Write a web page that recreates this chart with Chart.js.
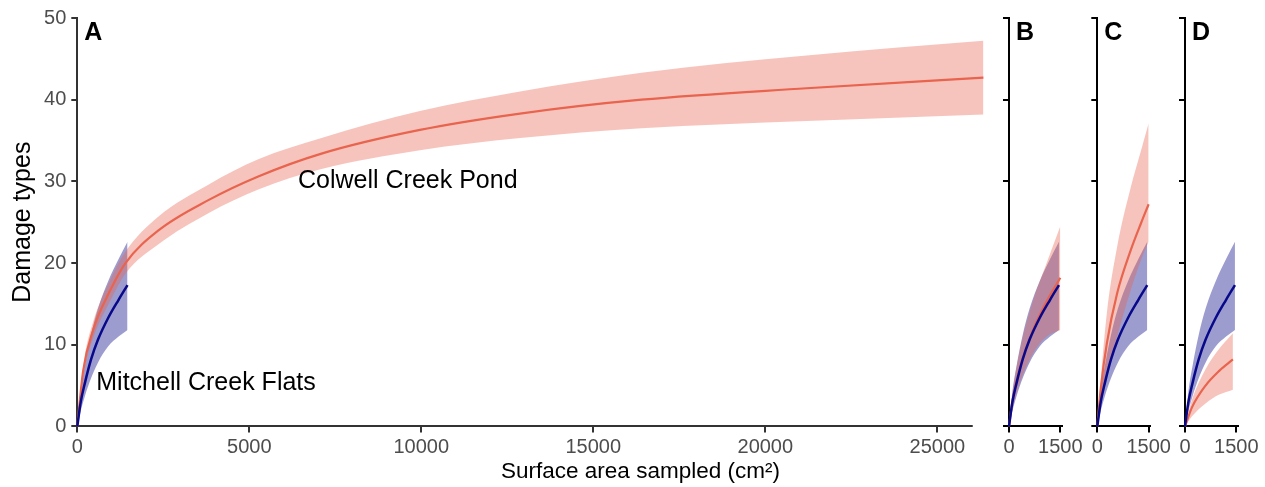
<!DOCTYPE html>
<html>
<head>
<meta charset="utf-8">
<script src="https://cdn.jsdelivr.net/npm/chart.js@4.4.1/dist/chart.umd.min.js"></script>
<style>
html,body{margin:0;padding:0;background:#fff;overflow:hidden;}
#wrap{position:relative;width:1265px;height:487px;background:#fff;}
#wrap canvas{position:absolute;left:0;top:0;}
#xtitle{position:absolute;left:340px;width:601px;top:457px;text-align:center;font-family:"Liberation Sans",Arial,Helvetica,sans-serif;font-size:22.5px;line-height:27px;color:#000;white-space:nowrap;}
</style>
</head>
<body>
<div id="wrap">
  <canvas id="cA" width="1265" height="487"></canvas>
  <canvas id="cB" width="1265" height="487"></canvas>
  <canvas id="cC" width="1265" height="487"></canvas>
  <canvas id="cD" width="1265" height="487"></canvas>
  <div id="xtitle">Surface area sampled (cm²)</div>
</div>
<script>
// ---------- tick labels ----------
const yTicks = [0, 10, 20, 30, 40, 50];
const xTicksA = [0, 5000, 10000, 15000, 20000, 25000];
const xTicksSmall = [0, 1500];

// ---------- Mitchell Creek Flats (blue, all panels) ----------
const mitchellX     = [0, 100, 220, 400, 600, 900, 1200, 1460];
const mitchellMean  = [0, 3.0, 5.3, 8.2, 10.6, 13.3, 15.5, 17.3];
const mitchellUpper = [0, 4.3, 7.4, 11.2, 14.4, 17.8, 20.5, 22.6];
const mitchellLower = [0, 1.9, 3.7, 5.9, 7.8, 9.8, 11.0, 11.8];

// ---------- Panel A: Colwell Creek Pond ----------
const colwellX     = [0, 170, 460, 950, 1400, 2360, 3810, 5260, 7100, 9960, 12870, 16400, 21200, 26340];
const colwellMean  = [0, 6.8, 11.8, 16.6, 20.0, 24.0, 27.7, 30.6, 33.4, 36.3, 38.3, 40.0, 41.4, 42.7];
const colwellUpper = [0, 7.4, 12.8, 17.9, 21.4, 25.7, 29.6, 32.7, 35.3, 38.6, 41.0, 43.3, 45.4, 47.2];
const colwellLower = [0, 6.2, 10.8, 15.3, 18.7, 22.3, 26.1, 29.0, 31.5, 33.8, 35.3, 36.5, 37.4, 38.2];

// ---------- Panel B ----------
const bX     = [0, 100, 320, 710, 1100, 1500];
const bMean  = [0, 3.1, 7.2, 11.9, 15.3, 18.2];
const bUpper = [0, 3.9, 9.4, 15.5, 20.0, 24.5];
const bLower = [0, 2.1, 5.4, 9.0, 11.0, 11.8];

// ---------- Panel C ----------
const cX     = [0, 100, 280, 580, 980, 1280, 1500];
const cMean  = [0, 4.6, 10.2, 16.3, 21.6, 24.9, 27.2];
const cUpper = [0, 5.6, 13.9, 22.0, 29.3, 33.8, 37.1];
const cLower = [0, 2.4, 6.1, 11.0, 16.7, 20.4, 22.6];

// ---------- Panel D ----------
const dX     = [0, 200, 600, 1000, 1400];
const dMean  = [0, 2.3, 5.0, 6.8, 8.2];
const dUpper = [0, 3.2, 7.0, 9.5, 11.4];
const dLower = [0, 1.2, 2.8, 3.9, 4.5];

// ---------- styling ----------
const FONT = '"Liberation Sans", Arial, Helvetica, sans-serif';
const W = 1265, H = 487;
const PLOT_TOP = 18, PLOT_BOTTOM = 426.4;
const RED = '#E8644F', RED_BAND = 'rgba(232,100,79,0.38)';
const BLUE = '#08088A', BLUE_BAND = 'rgba(20,20,140,0.42)';
const TICK_COLOR = '#4d4d4d';

function pts(xs, ys) { return xs.map((x, i) => ({x: x, y: ys[i]})); }

function lineDS(xs, ys, color, width, order) {
  return {data: pts(xs, ys), borderColor: color, borderWidth: width, pointRadius: 0,
          fill: false, cubicInterpolationMode: 'monotone', order: order, clip: false};
}
function bandDS(xs, up, lo, color, order) {
  return [
    {data: pts(xs, up), borderWidth: 0, borderColor: 'rgba(0,0,0,0)', backgroundColor: color,
     pointRadius: 0, fill: '+1', cubicInterpolationMode: 'monotone', order: order},
    {data: pts(xs, lo), borderWidth: 0, borderColor: 'rgba(0,0,0,0)', backgroundColor: color,
     pointRadius: 0, fill: false, cubicInterpolationMode: 'monotone', order: order}
  ];
}
function panelDatasets(rx, rm, ru, rl) {
  return [
    lineDS(mitchellX, mitchellMean, BLUE, 2.5, 1),
    lineDS(rx, rm, RED, 2.2, 2),
    ...bandDS(rx, ru, rl, RED_BAND, 4),
    ...bandDS(mitchellX, mitchellUpper, mitchellLower, BLUE_BAND, 5)
  ];
}

function textPlugin(letter, notes, axisColor, xAxisEnd) {
  return {
    id: 'texts_' + letter,
    beforeDatasetsDraw(chart) {
      if (xAxisEnd == null) return;
      const {ctx, chartArea, scales} = chart;
      ctx.save();
      ctx.strokeStyle = axisColor;
      ctx.lineWidth = 2;
      const yy = Math.round(chartArea.bottom);
      ctx.beginPath();
      ctx.moveTo(chartArea.left - 1, yy);
      ctx.lineTo(scales.x.getPixelForValue(xAxisEnd), yy);
      ctx.stroke();
      ctx.restore();
    },
    afterDatasetsDraw(chart) {
      const {ctx, chartArea, scales} = chart;
      ctx.save();
      ctx.fillStyle = '#000';
      ctx.textAlign = 'left';
      ctx.textBaseline = 'alphabetic';
      ctx.font = 'bold 25px ' + FONT;
      ctx.fillText(letter, chartArea.left + 7, chartArea.top + 21.5);
      ctx.font = '25px ' + FONT;
      notes.forEach(n => ctx.fillText(n.text, scales.x.getPixelForValue(n.x), scales.y.getPixelForValue(n.y)));
      ctx.restore();
    }
  };
}

function makePanel(id, cfg) {
  const yW = cfg.yLabels ? 77 : 10;
  return new Chart(document.getElementById(id), {
    type: 'line',
    data: {datasets: cfg.datasets},
    options: {
      responsive: false,
      animation: false,
      events: [],
      layout: {padding: {left: cfg.left - yW, right: W - cfg.right, top: PLOT_TOP, bottom: 0}},
      plugins: {legend: {display: false}, tooltip: {enabled: false}, title: {display: false}},
      scales: {
        x: {
          type: 'linear', min: 0, max: cfg.xMax,
          afterBuildTicks: s => { s.ticks = cfg.xTicks.map(v => ({value: v})); },
          afterFit: s => { s.height = H - PLOT_BOTTOM; },
          border: {display: cfg.xAxisEnd == null, color: cfg.axisColor, width: 2},
          grid: {display: true, drawOnChartArea: false, drawTicks: true, tickLength: 6,
                 color: cfg.axisColor, lineWidth: 2},
          ticks: {color: TICK_COLOR, font: {family: FONT, size: 20}, padding: 3,
                  maxRotation: 0, minRotation: 0, autoSkip: false, callback: v => String(v)}
        },
        y: {
          type: 'linear', min: 0, max: 50,
          afterBuildTicks: s => { s.ticks = yTicks.map(v => ({value: v})); },
          afterFit: s => { s.width = yW; },
          border: {display: true, color: cfg.axisColor, width: 2},
          grid: {display: true, drawOnChartArea: false, drawTicks: true, tickLength: 6,
                 color: cfg.axisColor, lineWidth: 2},
          ticks: {color: TICK_COLOR, font: {family: FONT, size: 20}, padding: 5,
                  autoSkip: false, callback: v => cfg.yLabels ? String(v) : ''},
          title: cfg.yLabels
            ? {display: true, text: 'Damage types', color: '#000', font: {family: FONT, size: 25},
               padding: {top: 8, bottom: 0}}
            : {display: false}
        }
      }
    },
    plugins: [textPlugin(cfg.letter, cfg.notes || [], cfg.axisColor, cfg.xAxisEnd)]
  });
}

makePanel('cA', {
  left: 77.3, right: 984.1, xMax: 26360, xTicks: xTicksA, yLabels: true,
  axisColor: '#333333', xAxisEnd: 26030, letter: 'A',
  datasets: panelDatasets(colwellX, colwellMean, colwellUpper, colwellLower),
  notes: [
    {text: 'Colwell Creek Pond', x: 6416, y: 29.15},
    {text: 'Mitchell Creek Flats', x: 552, y: 4.46}
  ]
});
makePanel('cB', {
  left: 1009, right: 1061.7, xMax: 1540, xTicks: xTicksSmall, yLabels: false,
  axisColor: '#000000', letter: 'B',
  datasets: panelDatasets(bX, bMean, bUpper, bLower)
});
makePanel('cC', {
  left: 1097.3, right: 1150, xMax: 1540, xTicks: xTicksSmall, yLabels: false,
  axisColor: '#000000', letter: 'C',
  datasets: panelDatasets(cX, cMean, cUpper, cLower)
});
makePanel('cD', {
  left: 1185, right: 1237.7, xMax: 1540, xTicks: xTicksSmall, yLabels: false,
  axisColor: '#000000', letter: 'D',
  datasets: panelDatasets(dX, dMean, dUpper, dLower)
});
</script>
</body>
</html>
